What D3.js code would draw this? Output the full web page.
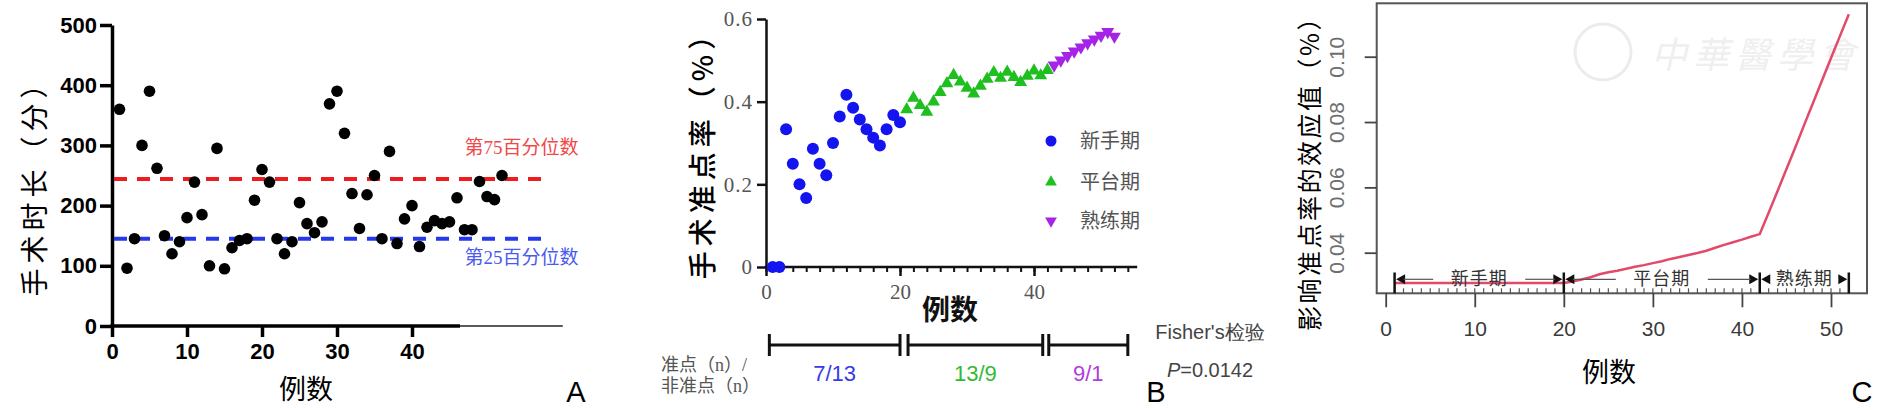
<!DOCTYPE html>
<html><head><meta charset="utf-8">
<script src="https://cdn.jsdelivr.net/npm/d3@7"></script>
<style>html,body{margin:0;padding:0;background:#fff;} svg{display:block;}</style>
</head><body>
<svg id="chart" width="1891" height="410"></svg>
<script>
// ---------- Panel A data ----------
const caseA = [1,2,3,4,5,6,7,8,9,10,11,12,13,14,15,16,17,18,19,20,21,22,23,24,25,26,27,28,29,30,31,32,33,34,35,36,37,38,39,40,41,42,43,44,45,46,47,48,49,50,51,52];
const durationA = [360,96,145,300,390,262,150,120,140,180,239,185,100,295,95,130,142,145,209,260,239,145,120,140,205,170,155,173,369,390,320,220,162,218,250,145,290,137,178,200,132,164,175,170,173,213,160,160,240,215,210,250];
const pctValues = [244, 145];
const pctLabels = ["第75百分位数", "第25百分位数"];
const yTicksA = [0,100,200,300,400,500];
const xTicksA = [0,10,20,30,40];

// ---------- Panel B data ----------
const noviceCase = [1,2,3,4,5,6,7,8,9,10,11,12,13,14,15,16,17,18,19,20];
const noviceRate = [0,0,0.333,0.25,0.2,0.167,0.286,0.25,0.222,0.3,0.364,0.417,0.385,0.357,0.333,0.313,0.294,0.333,0.368,0.35];
const plateauCase = [21,22,23,24,25,26,27,28,29,30,31,32,33,34,35,36,37,38,39,40,41,42];
const plateauRate = [0.381,0.409,0.391,0.375,0.4,0.423,0.444,0.464,0.448,0.433,0.419,0.438,0.455,0.471,0.457,0.472,0.459,0.447,0.462,0.475,0.463,0.476];
const proficientCase = [43,44,45,46,47,48,49,50,51,52];
const proficientRate = [0.488,0.5,0.511,0.522,0.532,0.542,0.551,0.56,0.569,0.558];
const phaseNames = ["新手期","平台期","熟练期"];
const phaseCounts = ["7/13","13/9","9/1"];
const bracketFrom = [0.5, 21.2, 42.2];
const bracketTo = [20, 41.3, 54];
const yTicksB = [0,0.2,0.4,0.6];
const xTicksB = [0,20,40];

// ---------- Panel C data ----------
const caseC = [1,2,3,4,5,6,7,8,9,10,11,12,13,14,15,16,17,18,19,20,21,22,23,24,25,26,27,28,29,30,31,32,33,34,35,36,37,38,39,40,41,42,43,44,45,46,47,48,49,50,51,52];
const effectC = [0.0307,0.0307,0.0307,0.0307,0.0307,0.0307,0.0307,0.0307,0.0307,0.0307,0.0307,0.0307,0.0307,0.0307,0.0307,0.0307,0.0307,0.0307,0.0307,0.0307,
  0.0312,0.0318,0.0325,0.0334,0.0340,0.0345,0.0351,0.0357,0.0362,0.0368,0.0374,0.0381,0.0387,0.0393,0.0399,0.0406,0.0415,0.0424,0.0432,0.0440,0.0449,0.0457,
  0.0522,0.0589,0.0656,0.0723,0.0792,0.0860,0.0928,0.0996,0.1063,0.1130];
const phaseBounds = [1,20,42,52];
const yTicksC = [0.04,0.06,0.08,0.10];
const xTicksC = [0,10,20,30,40,50];

const CJK = "'Noto Sans CJK SC', sans-serif";
const SANS = "'Liberation Sans', Arial, sans-serif";
const SERIF = "'Liberation Serif', 'Times New Roman', serif";
const SERIFCJK = "'Liberation Serif', 'Noto Sans CJK SC', serif";

const svg = d3.select("#chart");
svg.append("rect").attr("width",1891).attr("height",410).attr("fill","#fff");

// =================== Panel A ===================
(function(){
  const xA = d3.scaleLinear().domain([0,60]).range([112,562]);
  const yA = d3.scaleLinear().domain([0,500]).range([326,25]);
  const g = svg.append("g");
  const ay = g.append("g").attr("transform",`translate(${xA(0)},0)`)
    .call(d3.axisLeft(yA).tickValues(yTicksA).tickSize(12).tickSizeOuter(0).tickPadding(3));
  ay.select(".domain").attr("stroke","#000").attr("stroke-width",3.5);
  ay.selectAll(".tick line").attr("stroke","#000").attr("stroke-width",3.5);
  ay.selectAll(".tick text").attr("font-family",SANS).attr("font-weight","bold").attr("font-size",22).attr("fill","#000");

  const ax = g.append("g").attr("transform",`translate(0,${yA(0)})`)
    .call(d3.axisBottom(xA).tickValues(xTicksA).tickSize(11).tickSizeOuter(0).tickPadding(6));
  ax.select(".domain").remove();
  ax.selectAll(".tick line").attr("stroke","#000").attr("stroke-width",3.5);
  ax.selectAll(".tick text").attr("font-family",SANS).attr("font-weight","bold").attr("font-size",22).attr("fill","#000");
  g.append("line").attr("x1",xA(0)-1.75).attr("x2",xA(46.4)).attr("y1",yA(0)).attr("y2",yA(0)).attr("stroke","#000").attr("stroke-width",3.5);
  g.append("line").attr("x1",xA(46.4)).attr("x2",xA(60.1)).attr("y1",yA(0)).attr("y2",yA(0)).attr("stroke","#222").attr("stroke-width",1.3);

  const pctColors = ["#ee1c1c","#2438ee"];
  const txtColors = ["#f04848","#4a5af0"];
  const txtOffset = [-32, 19];
  pctValues.forEach((v,i)=>{
    g.append("line").attr("x1",xA(0)+2).attr("x2",xA(58.4)).attr("y1",yA(v)).attr("y2",yA(v))
      .attr("stroke",pctColors[i]).attr("stroke-width",4).attr("stroke-dasharray","13,10");
    g.append("text").attr("x",xA(47)).attr("y",yA(v)+txtOffset[i]).attr("dominant-baseline","central")
      .attr("font-family",SERIFCJK).attr("font-size",19).attr("fill",txtColors[i]).text(pctLabels[i]);
  });

  g.selectAll("circle.dot").data(caseA).enter().append("circle").attr("class","dot")
    .attr("cx",d=>xA(d)).attr("cy",(d,i)=>yA(durationA[i])).attr("r",5.8).attr("fill","#000");

  g.append("text").attr("transform","translate(33,181) rotate(-90)").attr("text-anchor","middle").attr("dominant-baseline","central")
    .attr("font-family",CJK).attr("font-size",28).attr("letter-spacing",5).attr("fill","#000").text("手术时长（分）");
  g.append("text").attr("x",306).attr("y",387).attr("text-anchor","middle").attr("dominant-baseline","central")
    .attr("font-family",CJK).attr("font-size",27).attr("fill","#000").text("例数");
  g.append("text").attr("x",576).attr("y",402).attr("text-anchor","middle")
    .attr("font-family",SANS).attr("font-size",29).attr("fill","#000").text("A");
})();

// =================== Panel B ===================
(function(){
  const xB = d3.scaleLinear().domain([0,55.4]).range([766,1137.2]);
  const yB = d3.scaleLinear().domain([0,0.6]).range([267,19]);
  const g = svg.append("g");
  const ay = g.append("g").attr("transform",`translate(${xB(0)},0)`)
    .call(d3.axisLeft(yB).tickValues(yTicksB).tickSize(9).tickSizeOuter(0).tickPadding(4)
      .tickFormat(d=> d===0 ? "0" : d3.format(".1f")(d)));
  ay.select(".domain").attr("stroke","#111").attr("stroke-width",2.5);
  ay.selectAll(".tick line").attr("stroke","#111").attr("stroke-width",2.5);
  ay.selectAll(".tick text").attr("font-family",SERIF).attr("font-size",21).attr("letter-spacing",1).attr("fill","#555");

  const minor = d3.range(0,55,2);
  const axm = g.append("g").attr("transform",`translate(0,${yB(0)})`)
    .call(d3.axisBottom(xB).tickValues(minor).tickSize(5).tickSizeOuter(0).tickFormat(""));
  axm.select(".domain").remove();
  axm.selectAll(".tick line").attr("stroke","#111").attr("stroke-width",2);
  const ax = g.append("g").attr("transform",`translate(0,${yB(0)})`)
    .call(d3.axisBottom(xB).tickValues(xTicksB).tickSize(9).tickSizeOuter(0).tickPadding(8));
  ax.select(".domain").remove();
  ax.selectAll(".tick line").attr("stroke","#111").attr("stroke-width",2.5);
  ax.selectAll(".tick text").attr("font-family",SERIF).attr("font-size",21).attr("fill","#555");
  g.append("line").attr("x1",xB(0)-1.25).attr("x2",xB(55.4)).attr("y1",yB(0)).attr("y2",yB(0)).attr("stroke","#111").attr("stroke-width",2.5);

  const cBlue = "#1414f0", cGreen = "#1fbf1f", cPurple = "#a523e6";
  g.selectAll("circle.nov").data(noviceCase).enter().append("circle").attr("class","nov")
    .attr("cx",d=>xB(d)).attr("cy",(d,i)=>yB(noviceRate[i])).attr("r",6).attr("fill",cBlue);
  const tri = d3.symbol().type(d3.symbolTriangle).size(72);
  g.selectAll("path.pla").data(plateauCase).enter().append("path").attr("class","pla")
    .attr("d",tri).attr("transform",(d,i)=>`translate(${xB(d)},${yB(plateauRate[i])})`).attr("fill",cGreen);
  g.selectAll("path.pro").data(proficientCase).enter().append("path").attr("class","pro")
    .attr("d",tri).attr("transform",(d,i)=>`translate(${xB(d)},${yB(proficientRate[i])}) rotate(180)`).attr("fill",cPurple);

  // legend
  const ly = [141,182,221];
  g.append("circle").attr("cx",1051).attr("cy",ly[0]).attr("r",5.5).attr("fill",cBlue);
  g.append("path").attr("d",d3.symbol().type(d3.symbolTriangle).size(60)).attr("transform",`translate(1051,${ly[1]})`).attr("fill",cGreen);
  g.append("path").attr("d",d3.symbol().type(d3.symbolTriangle).size(60)).attr("transform",`translate(1051,${ly[2]}) rotate(180)`).attr("fill",cPurple);
  phaseNames.forEach((n,i)=>{
    g.append("text").attr("x",1080).attr("y",ly[i]).attr("dominant-baseline","central")
      .attr("font-family",SERIFCJK).attr("font-size",20).attr("fill","#555").text(n);
  });

  g.append("text").attr("transform","translate(701,148) rotate(-90)").attr("text-anchor","middle").attr("dominant-baseline","central")
    .attr("font-family",CJK).attr("font-size",28).attr("font-weight",500).attr("letter-spacing",5).attr("fill","#000").text("手术准点率（%）");
  g.append("text").attr("x",950).attr("y",308).attr("text-anchor","middle").attr("dominant-baseline","central")
    .attr("font-family",CJK).attr("font-size",28).attr("font-weight",700).attr("fill","#111").text("例数");

  // bracket row
  const by = 345;
  const cols = ["#3a3aea","#33bb33","#b23be0"];
  bracketFrom.forEach((a,i)=>{
    const b = bracketTo[i];
    g.append("line").attr("x1",xB(a)).attr("x2",xB(b)).attr("y1",by).attr("y2",by).attr("stroke","#111").attr("stroke-width",3);
    [a,b].forEach(v=> g.append("line").attr("x1",xB(v)).attr("x2",xB(v)).attr("y1",by-11).attr("y2",by+11).attr("stroke","#111").attr("stroke-width",3));
    g.append("text").attr("x",xB((a+b)/2)).attr("y",381).attr("text-anchor","middle")
      .attr("font-family",SANS).attr("font-size",22).attr("fill",cols[i]).text(phaseCounts[i]);
  });
  g.append("text").attr("x",661).attr("y",371).attr("font-family",SERIFCJK).attr("font-size",18).attr("fill","#555").text("准点（n）/");
  g.append("text").attr("x",661).attr("y",392).attr("font-family",SERIFCJK).attr("font-size",18).attr("fill","#555").text("非准点（n）");
  g.append("text").attr("x",1210).attr("y",339).attr("text-anchor","middle").attr("font-family",SANS).attr("font-size",20).attr("fill","#444").text("Fisher's检验");
  const pt = g.append("text").attr("x",1210).attr("y",377).attr("text-anchor","middle").attr("font-family",SANS).attr("font-size",20).attr("fill","#444");
  pt.append("tspan").attr("font-style","italic").text("P");
  pt.append("tspan").text("=0.0142");
  g.append("text").attr("x",1156).attr("y",402).attr("text-anchor","middle")
    .attr("font-family",SANS).attr("font-size",29).attr("fill","#000").text("B");
})();

// =================== Panel C ===================
(function(){
  const xC = d3.scaleLinear().domain([0,50]).range([1385.7,1831]);
  const yC = d3.scaleLinear().domain([0.04,0.10]).range([252.7,56.7]);
  const L = 1376.7, R = 1867, T = 3.3, B = 293.3;
  const g = svg.append("g");

  // watermark
  g.append("circle").attr("cx",1603).attr("cy",52).attr("r",28).attr("fill","none").attr("stroke","#ececec").attr("stroke-width",3);
  g.append("text").attr("x",1756).attr("y",52).attr("text-anchor","middle").attr("dominant-baseline","central")
    .attr("font-family",CJK).attr("font-size",36).attr("font-style","italic").attr("fill","#efefef").attr("letter-spacing",6).text("中華醫學會");

  g.append("rect").attr("x",L).attr("y",T).attr("width",R-L).attr("height",B-T).attr("fill","none").attr("stroke","#555").attr("stroke-width",2);

  const ax = g.append("g").attr("transform",`translate(0,${B})`)
    .call(d3.axisBottom(xC).tickValues(xTicksC).tickSize(14).tickSizeOuter(0).tickPadding(14));
  ax.select(".domain").remove();
  ax.selectAll(".tick line").attr("stroke","#444").attr("stroke-width",1.8);
  ax.selectAll(".tick text").attr("font-family",SANS).attr("font-size",21).attr("fill","#3a3a3a");

  const ay = g.append("g").attr("transform",`translate(${L},0)`)
    .call(d3.axisLeft(yC).tickValues(yTicksC).tickSize(12).tickSizeOuter(0).tickFormat(d3.format(".2f")));
  ay.select(".domain").remove();
  ay.selectAll(".tick line").attr("stroke","#444").attr("stroke-width",1.8);
  ay.selectAll(".tick text").attr("x",0).attr("dy",null).attr("dominant-baseline","central")
    .attr("transform","translate(-40,0) rotate(-90)").attr("text-anchor","middle")
    .attr("font-family",SANS).attr("font-size",21).attr("fill","#6e6e6e");

  // rug ticks
  g.selectAll("line.rug").data(caseC).enter().append("line").attr("class","rug")
    .attr("x1",d=>xC(d)).attr("x2",d=>xC(d)).attr("y1",B-5).attr("y2",B).attr("stroke","#555").attr("stroke-width",1.2);

  // line
  const line = d3.line().x(d=>xC(d)).y((d,i)=>yC(effectC[i]));
  g.append("path").datum(caseC).attr("d",line).attr("fill","none").attr("stroke","#e24a6a").attr("stroke-width",2.5);

  // phase annotation
  const ay0 = 279.3;
  phaseBounds.forEach(v=>{
    g.append("line").attr("x1",xC(v)).attr("x2",xC(v)).attr("y1",272.5).attr("y2",B).attr("stroke","#111").attr("stroke-width",2.5);
  });
  const arrow = (x,dir)=> `M${x},${ay0} L${x-dir*9},${ay0-5} L${x-dir*9},${ay0+5} Z`;
  const textW = 56, gap = 18;
  phaseNames.forEach((n,i)=>{
    const a = xC(phaseBounds[i]), b = xC(phaseBounds[i+1]);
    const m = (a+b)/2;
    g.append("path").attr("d",arrow(a+1.5,-1)).attr("fill","#111");
    g.append("path").attr("d",arrow(b-1.5,1)).attr("fill","#111");
    if (b-a > 120) {
      g.append("line").attr("x1",a+9).attr("x2",m-textW/2-gap).attr("y1",ay0).attr("y2",ay0).attr("stroke","#555").attr("stroke-width",1.2);
      g.append("line").attr("x1",m+textW/2+gap).attr("x2",b-9).attr("y1",ay0).attr("y2",ay0).attr("stroke","#555").attr("stroke-width",1.2);
    }
    g.append("text").attr("x",m).attr("y",ay0).attr("text-anchor","middle").attr("dominant-baseline","central")
      .attr("font-family",SERIFCJK).attr("font-size",18).attr("fill","#333").attr("letter-spacing",1).text(n);
  });

  g.append("text").attr("transform","translate(1308,167) rotate(-90)").attr("text-anchor","middle").attr("dominant-baseline","central")
    .attr("font-family",CJK).attr("font-size",25).attr("letter-spacing",2.5).attr("fill","#000").text("影响准点率的效应值（%）");
  g.append("text").attr("x",1609).attr("y",370).attr("text-anchor","middle").attr("dominant-baseline","central")
    .attr("font-family",CJK).attr("font-size",27).attr("fill","#000").text("例数");
  g.append("text").attr("x",1862).attr("y",402).attr("text-anchor","middle")
    .attr("font-family",SANS).attr("font-size",29).attr("fill","#000").text("C");
})();
</script>
</body></html>
